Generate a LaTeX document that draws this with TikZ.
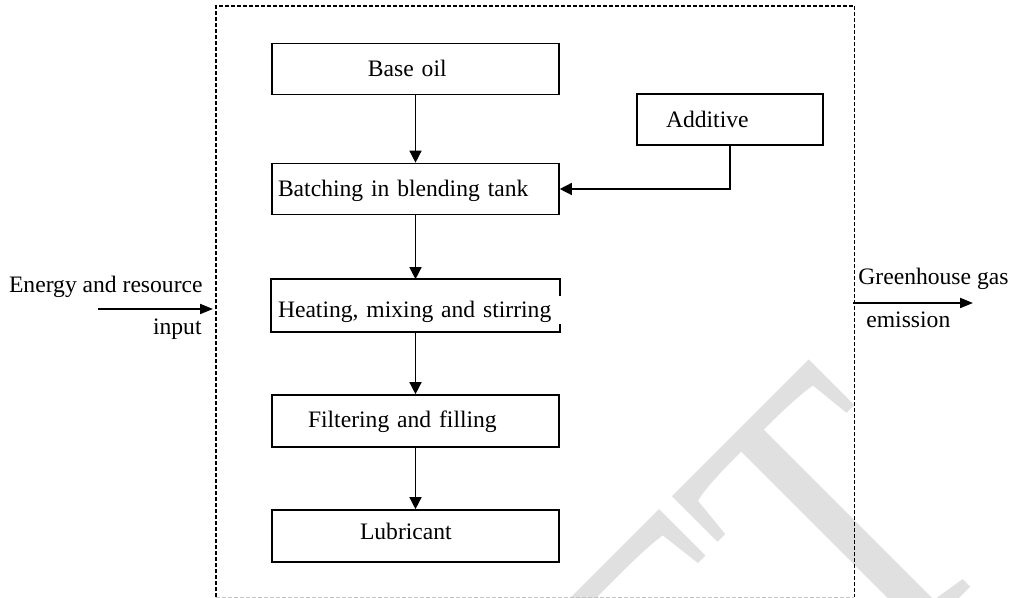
\documentclass[tikz,border=0pt]{standalone}
\usepackage{fontspec}
\setmainfont{Liberation Serif}
\usetikzlibrary{arrows.meta,calc}
\definecolor{wm}{RGB}{224,224,224}
\definecolor{botgrey}{RGB}{195,195,195}
\begin{document}
\begin{tikzpicture}[x=0.5pt,y=-0.5pt,
  every node/.style={font=\fontsize{11.8pt}{14pt}\selectfont, inner sep=0pt},
  procbox/.style={draw, line width=0.8pt, minimum width=143.5pt, minimum height=25.5pt,
    text width=140.5pt, inner xsep=1.5pt, inner ysep=0pt, align=left, text depth=0pt},
  flow/.style={line width=0.7pt, -{Triangle[length=6pt,width=6pt]}},
  bigflow/.style={line width=1pt, -{Triangle[length=6.5pt,width=5pt]}},
  framedash/.style={line width=0.65pt, dash pattern=on 2pt off 1pt},
  botdash/.style={line width=0.5pt, draw=botgrey, dash pattern=on 2pt off 1pt}
  ]
\useasboundingbox (0,0) rectangle (1014,598);
% watermark
\begin{scope}
\clip (0,0) rectangle (1014,598);
\begin{scope}[shift={(1008,550)}]
\node[rotate=45, xscale=0.8, anchor=base east, text=wm, font=\fontsize{210pt}{210pt}\selectfont] (wmark) at (0,0) {DRAFT};
\end{scope}
\end{scope}
% frame
\node[minimum width=318.75pt, minimum height=295.25pt] (frame) at (535.25,301.75) {};
\draw[botdash] (frame.south west) -- (frame.south east);
\draw[framedash] (frame.south west) -- (frame.north west) -- (frame.north east) -- (frame.south east);
% boxes
\node[procbox, text height=8pt] (base) at (415.5,69) {\noindent\hspace*{46.5pt}Base oil};
\node[procbox, text height=8pt] (batch) at (415.5,189) {\noindent\hspace*{1.5pt}Batching in blending tank};
\node[procbox, draw=none, text height=12.5pt] (heat) at (415.5,305.5) {\noindent\hspace*{1.5pt}Heating, mixing and stirring};
\draw[line width=0.8pt] ($(heat.north east)+(0,17)$) -- (heat.north east) -- (heat.north west) -- (heat.south west) -- (heat.south east) -- ++(0,-8);
\node[procbox, text height=7pt, minimum height=26pt] (filt) at (415.5,421) {\noindent\hspace*{16.5pt}Filtering and filling};
\node[procbox, text height=4pt, minimum height=26pt] (lub) at (415.5,536) {\noindent\hspace*{42.5pt}Lubricant};
\node[procbox, minimum width=93pt, text width=90pt, text height=8.5pt] (add) at (730,119.5) {\noindent\hspace*{13pt}Additive};
% connectors
\draw[flow] (base.south) -- (batch.north);
\draw[flow] (batch.south) -- (heat.north);
\draw[flow] (heat.south) -- (filt.north);
\draw[flow] (filt.south) -- (lub.north);
\draw[flow] (add.south) |- (batch.east);
% input / output
\node[anchor=base east] (ein1) at (203,293) {Energy and resource};
\node[anchor=base east] (ein2) at (202,335) {input};
\coordinate (einS) at (98,309);
\coordinate (einE) at (213,309);
\draw[bigflow] (einS) -- (einE);
\node[anchor=base west] (gh1) at (858,285) {Greenhouse gas};
\node[anchor=base west] (gh2) at (866,328) {emission};
\coordinate (ghS) at (853,303);
\coordinate (ghE) at (973,303);
\draw[bigflow] (ghS) -- (ghE);
\end{tikzpicture}
\end{document}
